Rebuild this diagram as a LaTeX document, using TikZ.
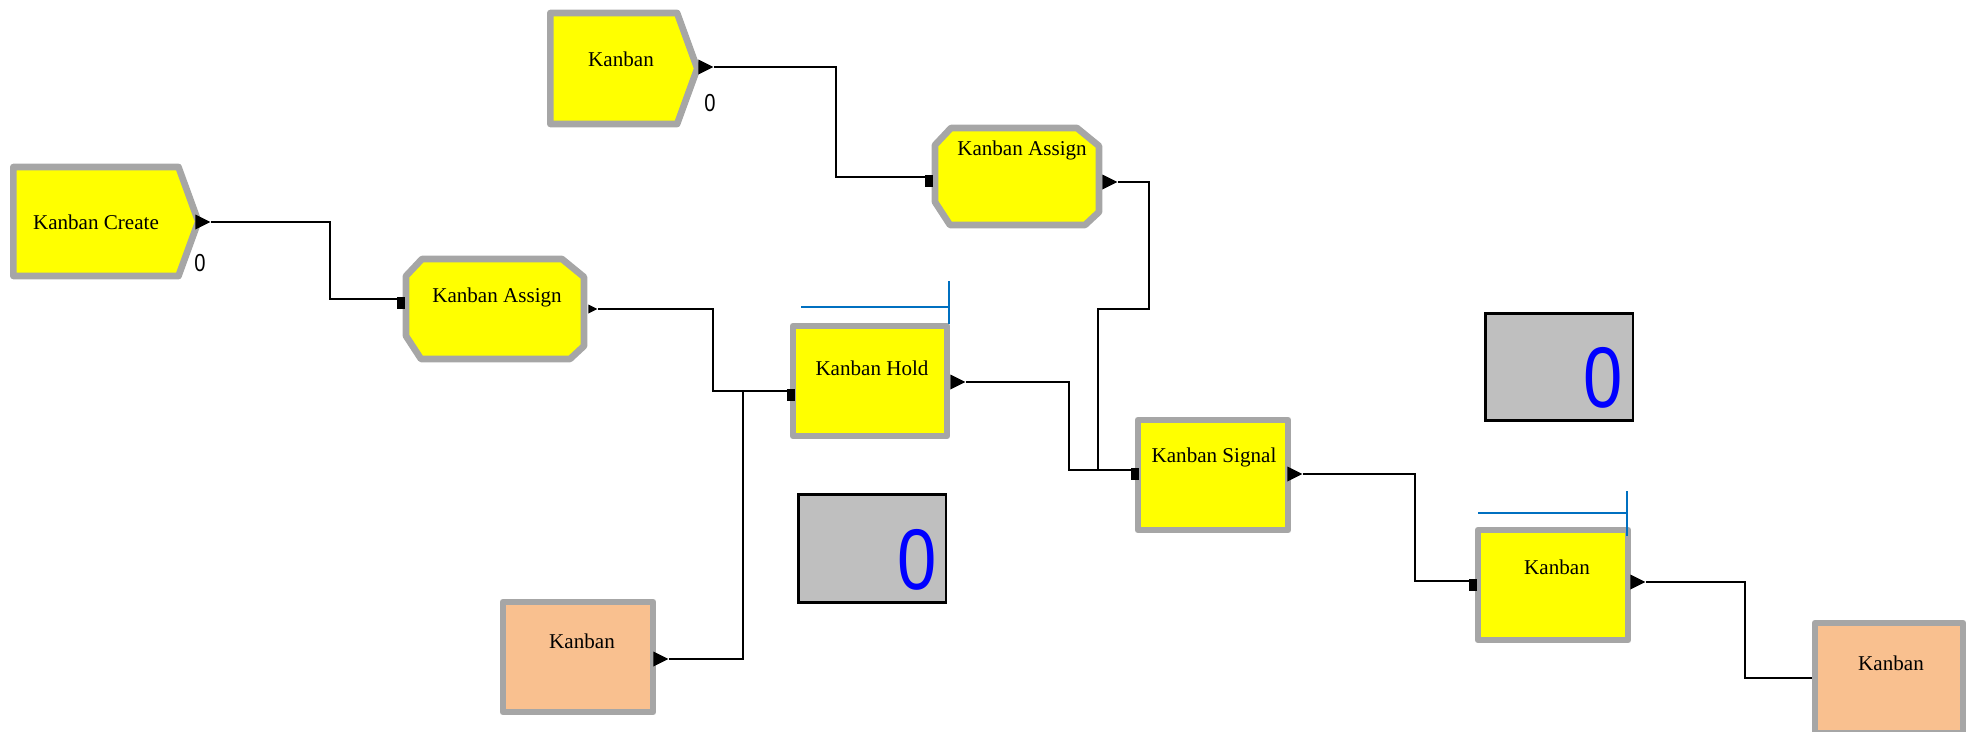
\documentclass[tikz,border=0pt]{standalone}
\usepackage{fontspec}
\setmainfont{Liberation Serif}
\newfontfamily\numfont{Liberation Sans}
\usetikzlibrary{shapes.symbols,shapes.geometric}
\definecolor{kyellow}{RGB}{255,255,0}
\definecolor{kgray}{RGB}{166,166,166}
\definecolor{korange}{RGB}{249,192,143}
\definecolor{kbox}{RGB}{191,191,191}
\definecolor{kblue}{RGB}{0,112,192}
% octagon round an assign node
\newcommand\assignshape[1]{%
  \draw[module] ([xshift=0.32cm]#1.north west) -- ([xshift=-0.44cm]#1.north east)
    -- ([yshift=-0.36cm]#1.north east) -- ([yshift=0.26cm]#1.south east)
    -- ([xshift=-0.28cm]#1.south east) -- ([xshift=0.3cm]#1.south west)
    -- ([yshift=0.46cm]#1.south west) -- ([yshift=-0.34cm]#1.north west) -- cycle;}
\newcommand\narrowzero{\scalebox{0.82}[1]{0}}

\begin{document}
\begin{tikzpicture}[x=0.02cm,y=-0.02cm,
    module/.style={draw=kgray, line width=3.8pt, fill=kyellow, inner sep=0pt, line join=round},
    createmod/.style={module, signal, signal to=east, signal from=nowhere, signal pointer angle=140, anchor=west},
    assignbox/.style={inner sep=0pt, outer sep=0pt},
    boxmod/.style={module, rectangle, minimum width=3cm, minimum height=2.2cm},
    counter/.style={draw=black, line width=1.7pt, fill=kbox, minimum width=2.96cm, minimum height=2.15cm},
    ktext/.style={inner sep=0pt, font=\fontsize{12}{14}\selectfont},
    cnt/.style={inner sep=0pt, font=\numfont\fontsize{14}{16}\selectfont},
    bigcnt/.style={inner sep=0pt, text=blue, font=\numfont\fontsize{49}{52}\selectfont},
    outport/.style={isosceles triangle, isosceles triangle stretches, fill=black, inner sep=0pt,
      minimum width=0.3cm, minimum height=0.3cm, anchor=west},
    inport/.style={fill=black, inner sep=0pt, minimum width=0.16cm, minimum height=0.24cm},
    conn/.style={line width=1.1pt},
    queue/.style={draw=kblue, line width=1.1pt}]
  \useasboundingbox (0,0) rectangle (1968,731);

  % modules
  \node[createmod, minimum width=3.7cm, minimum height=2.18cm] (create) at (10,221.5) {};
  \node[createmod, minimum width=2.94cm, minimum height=2.22cm] (top) at (547,68.5) {};
  \node[assignbox, minimum width=3.56cm, minimum height=2cm] (assignA) at (495,309) {};
  \node[assignbox, minimum width=3.28cm, minimum height=1.94cm] (assignB) at (1017,176.5) {};
  \assignshape{assignA}
  \assignshape{assignB}
  \node[boxmod, minimum width=3.08cm] (hold) at (870,381) {};
  \node[boxmod] (signal) at (1213,475) {};
  \node[boxmod] (kanban) at (1553,585) {};
  \node[boxmod, fill=korange] (src) at (578,657) {};
  \node[boxmod, fill=korange, minimum width=2.96cm] (sink) at (1889,678) {};
  \node[counter] (holdbox) at (872,548.5) {};
  \node[counter] (kbox) at (1559,367) {};

  % texts
  \node[ktext] (createtxt) at (96,222) {Kanban Create};
  \node[ktext] (toptxt) at (621,59) {Kanban};
  \node[ktext] (assignAtxt) at (497,297) {Kanban Assign};
  \node[ktext] (assignBtxt) at (1022,150) {Kanban Assign};
  \node[ktext] (holdtxt) at (872,368) {Kanban Hold};
  \node[ktext] (signaltxt) at (1214,457) {Kanban Signal};
  \node[ktext] (kanbantxt) at (1557,567) {Kanban};
  \node[ktext] (srctxt) at (582,641) {Kanban};
  \node[ktext] (sinktxt) at (1891,663) {Kanban};
  \node[cnt] (createcnt) at (200,263) {\narrowzero};
  \node[cnt] (topcnt) at (710,103) {\narrowzero};
  \node[bigcnt] (holdnum) at (917,560) {\narrowzero};
  \node[bigcnt] (knum) at (1603,378) {\narrowzero};

  % queues
  \draw[queue] (801,307) -- (949,307) (949,281) -- (949,324);
  \draw[queue] (1478,513) -- (1627,513) (1627,491) -- (1627,536);

  % ports
  \node[outport] (createout) at (195,222) {};
  \node[outport] (topout) at (698,67) {};
  \node[outport, minimum width=0.18cm, minimum height=0.18cm] (assignAout) at (588,309) {};
  \node[outport] (assignBout) at (1102,182) {};
  \node[outport] (holdout) at (950,382) {};
  \node[outport] (signalout) at (1287,474) {};
  \node[outport] (kanbanout) at (1630,582) {};
  \node[outport] (srcout) at (653,659) {};
  \node[inport] (assignAin) at (401,303) {};
  \node[inport] (assignBin) at (929,181) {};
  \node[inport] (holdin) at (791,395) {};
  \node[inport] (signalin) at (1135,474) {};
  \node[inport] (kanbanin) at (1473,585) {};

  % connectors
  \draw[conn] (createout.east) -- ++(119,0) |- (assignAin.135);
  \draw[conn] (topout.east) -- ++(122,0) |- (assignBin.135);
  \draw[conn] (assignAout.east) -- ++(115,0) |- (holdin.135);
  \draw[conn] (srcout.east) -- ++(74,0) |- (holdin.135);
  \draw[conn] (assignBout.east) -- ++(31,0) -- ++(0,127) -- ++(-51,0) |- (signalin.135);
  \draw[conn] (holdout.east) -- ++(103,0) |- (signalin.135);
  \draw[conn] (signalout.east) -- ++(112,0) |- (kanbanin.135);
  \draw[conn] (kanbanout.east) -- ++(99,0) |- (sink.west);
\end{tikzpicture}
\end{document}
